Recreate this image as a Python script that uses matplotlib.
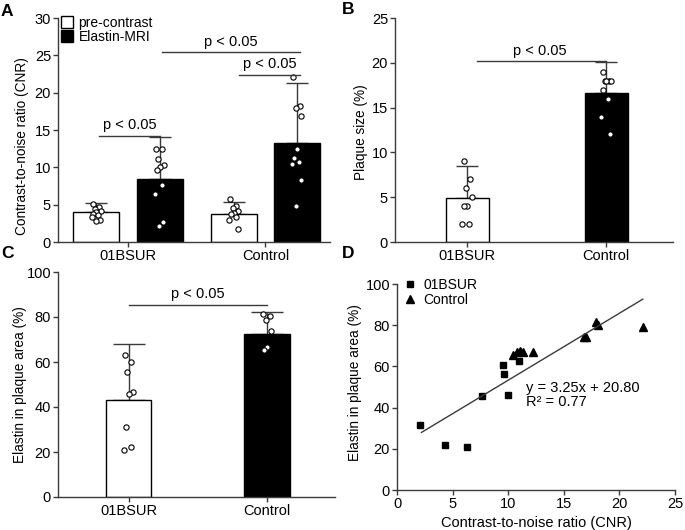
import matplotlib
matplotlib.use("Agg")
import matplotlib.pyplot as plt
from matplotlib.patches import Patch
import numpy as np

GROUPS = ["01BSUR", "Control"]

# A: contrast-to-noise ratio, pre-contrast vs Elastin-MRI
cnr_pre_pts = [[5.1, 4.7, 4.4, 4.2, 4.0, 3.8, 3.6, 3.3, 3.0, 2.8],
               [5.8, 4.8, 4.5, 4.1, 3.9, 3.7, 3.4, 3.0, 1.8]]
cnr_mri_pts = [[12.5, 12.5, 11.1, 10.3, 10.1, 9.7, 7.6, 6.4, 2.7, 2.1],
               [22.1, 18.2, 18.0, 16.9, 12.4, 11.3, 10.7, 10.4, 8.3, 4.8]]
cnr_pre_mean = [4.0, 3.7]
cnr_pre_sd = [1.2, 1.7]
cnr_mri_mean = [8.4, 13.3]
cnr_mri_sd = [5.6, 8.0]

# B: plaque size (%)
plaque_pts = [[9.0, 7.0, 6.0, 5.0, 4.0, 4.0, 2.0, 2.0],
              [19.0, 18.0, 18.0, 18.0, 18.0, 17.0, 16.0, 14.0, 12.0]]
plaque_mean = [4.9, 16.6]
plaque_sd = [3.6, 3.5]

# C: elastin in plaque area (%)
elastin_pts = [[63.0, 60.0, 55.7, 46.5, 46.0, 31.3, 22.1, 21.0],
               [81.4, 80.3, 78.8, 74.0, 66.5, 65.2]]
elastin_mean = [43.0, 72.3]
elastin_sd = [24.8, 10.0]

# D: elastin vs CNR
bsur_cnr = [2.1, 4.3, 6.3, 7.6, 9.55, 9.65, 9.95, 10.96]
bsur_elastin = [31.4, 22.0, 20.9, 45.8, 60.7, 56.2, 46.1, 62.8]
ctrl_cnr = [10.4, 10.8, 11.1, 11.35, 12.25, 16.8, 17.0, 17.9, 18.1, 22.1]
ctrl_elastin = [65.5, 67.1, 67.5, 67.1, 67.1, 74.1, 74.5, 81.7, 80.1, 79.0]
fit_slope, fit_icpt, fit_r2 = 3.25, 20.80, 0.77
fit_x_range = [2.2, 22.1]

AXC = "#3a3a3a"
NARROW = ["Liberation Sans Narrow", "Liberation Sans", "DejaVu Sans"]
REGULAR = ["Liberation Sans", "DejaVu Sans"]
plt.rcParams["font.family"] = NARROW
plt.rcParams["font.size"] = 10

W, H = 685, 530
fig = plt.figure(figsize=(W / 100, H / 100), dpi=100)


def add_axes(left, top, right, bottom):
    return fig.add_axes([left / W, 1 - bottom / H, (right - left) / W, (bottom - top) / H])


def style(ax):
    for s in ("top", "right"):
        ax.spines[s].set_visible(False)
    for s in ("left", "bottom"):
        ax.spines[s].set_color(AXC)
        ax.spines[s].set_linewidth(1)
    ax.tick_params(direction="out", length=3.5, width=1, color=AXC, labelsize=10.5, pad=1.5)


def spread(n, width=0.045):
    pattern = np.array([-0.6, 0.4, -0.2, 0.7, 0.0, -0.5, 0.3, -0.8, 0.6, -0.1])
    return pattern[:n] * width


def bar_with_points(ax, x, mean, sd, pts, color, width, capsize):
    ax.errorbar(x, mean, yerr=[[0], [sd]], fmt="none", ecolor=AXC, elinewidth=1,
                capsize=capsize, capthick=1, zorder=1)
    ax.bar(x, mean, width=width, color=color, edgecolor="black", linewidth=1, zorder=2)
    ax.plot(x + spread(len(pts)), pts, "o", ms=3.8, mfc="white", mec="black", mew=0.8,
            ls="none", zorder=3)


def sig(ax, x0, x1, y, xt=None):
    ax.plot([x0, x1], [y, y], color=AXC, lw=1, zorder=4)
    xt = (x0 + x1) / 2 if xt is None else xt
    ax.annotate("p < 0.05", xy=(xt, y), xytext=(0, 2.5), textcoords="offset points",
                ha="center", va="bottom", fontsize=10.5)


def ylabel(ax, text, x, y):
    ax.set_ylabel(text, family=REGULAR, fontsize=9.8)
    ax.yaxis.set_label_coords(x, y)


# ---- A ----
axA = add_axes(58, 18, 330, 242)
style(axA)
g = np.arange(2)
for i in g:
    bar_with_points(axA, g[i] - 0.23, cnr_pre_mean[i], cnr_pre_sd[i], cnr_pre_pts[i],
                    "white", 0.335, 8)
    bar_with_points(axA, g[i] + 0.23, cnr_mri_mean[i], cnr_mri_sd[i], cnr_mri_pts[i],
                    "black", 0.335, 8)
sig(axA, -0.21, 0.23, 14.25)
sig(axA, 0.25, 1.25, 25.4)
sig(axA, 0.81, 1.25, 22.4)
axA.set_xlim(-0.51, 1.47)
axA.set_ylim(0, 30)
axA.set_xticks(g, GROUPS)
axA.set_yticks(range(0, 31, 5))
ylabel(axA, "Contrast-to-noise ratio (CNR)", -0.105, 0.43)
axA.legend(handles=[Patch(facecolor="white", edgecolor="black", label="pre-contrast"),
                    Patch(facecolor="black", edgecolor="black", label="Elastin-MRI")],
           loc="upper left", bbox_to_anchor=(0.012, 1.01), frameon=False, fontsize=10,
           handlelength=0.85, handleheight=1.0, handletextpad=0.4, labelspacing=0.0,
           borderpad=0, borderaxespad=0)

# ---- B ----
axB = add_axes(395, 18, 673, 242)
style(axB)
for i, c in zip(g, ["white", "black"]):
    bar_with_points(axB, g[i], plaque_mean[i], plaque_sd[i], plaque_pts[i], c, 0.31, 8)
sig(axB, 0.07, 1.0, 20.2, xt=0.52)
axB.set_xlim(-0.52, 1.48)
axB.set_ylim(0, 25)
axB.set_xticks(g, GROUPS)
axB.set_yticks(range(0, 26, 5))
ylabel(axB, "Plaque size (%)", -0.097, 0.49)

# ---- C ----
axC = add_axes(58, 272, 335, 497)
style(axC)
for i, c in zip(g, ["white", "black"]):
    bar_with_points(axC, g[i], elastin_mean[i], elastin_sd[i], elastin_pts[i], c, 0.33, 11.5)
sig(axC, 0.0, 1.0, 85.5)
axC.set_xlim(-0.51, 1.49)
axC.set_ylim(0, 100)
axC.set_xticks(g, GROUPS)
axC.set_yticks(range(0, 101, 20))
ylabel(axC, "Elastin in plaque area (%)", -0.112, 0.50)

# ---- D ----
axD = add_axes(397, 284, 675, 490)
style(axD)
axD.plot(bsur_cnr, bsur_elastin, "s", ms=4.4, color="black", ls="none", label="01BSUR")
axD.plot(ctrl_cnr, ctrl_elastin, "^", ms=5.2, color="black", ls="none", label="Control")
fx = np.array(fit_x_range)
axD.plot(fx, fit_slope * fx + fit_icpt, color=AXC, lw=1)
axD.text(11.6, 49.4, f"y = {fit_slope:.2f}x + {fit_icpt:.2f}", ha="left", va="center",
         fontsize=10.5)
axD.text(11.6, 42.5, f"R\u00b2 = {fit_r2:.2f}", ha="left", va="center", fontsize=10.5)
axD.set_xlim(0, 25)
axD.set_ylim(0, 100)
axD.set_xticks(range(0, 26, 5))
axD.set_yticks(range(0, 101, 20))
axD.set_xlabel("Contrast-to-noise ratio (CNR)", fontsize=10.5, labelpad=4)
ylabel(axD, "Elastin in plaque area (%)", -0.126, 0.52)
axD.legend(loc="upper left", bbox_to_anchor=(0.02, 1.03), frameon=False, fontsize=10,
           handlelength=1.0, handletextpad=0.5, labelspacing=0.05, borderpad=0,
           borderaxespad=0)

# panel letters
for lbl, x, y in [("A", 1, 12), ("B", 342, 10), ("C", 1, 253), ("D", 342, 254)]:
    fig.text(x / W, 1 - y / H, lbl, ha="left", va="center", fontsize=12.5,
             fontweight="bold")

fig.savefig("out.png", dpi=100)
